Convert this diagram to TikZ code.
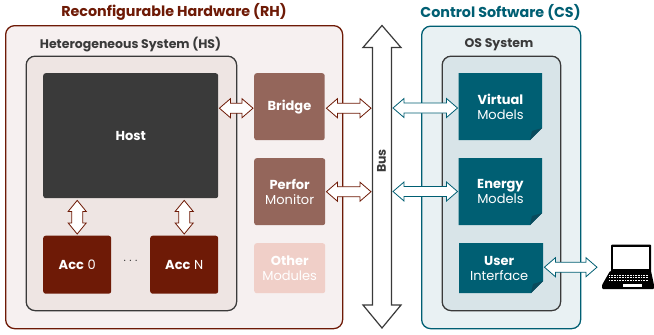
\documentclass[tikz,border=0pt]{standalone}
\usepackage{fontspec}
\setmainfont{Poppins}
\usetikzlibrary{calc}
\definecolor{rhred}{HTML}{6E1A06}
\definecolor{rhbg}{HTML}{F6F0F0}
\definecolor{hsbg}{HTML}{EEE5E3}
\definecolor{dark}{HTML}{3A3A3A}
\definecolor{brown}{HTML}{94665B}
\definecolor{pink}{HTML}{F0CFC8}
\definecolor{teal}{HTML}{005F73}
\definecolor{tealdk}{HTML}{0A4A5C}
\definecolor{csbg}{HTML}{E9F1F3}
\definecolor{osbg}{HTML}{D8E4E8}
\tikzset{
 x=1pt,y=-1pt,
 panel/.style={draw,line width=1.3pt,rounded corners=9pt,minimum width=0pt},
 block/.style={inner sep=0pt,rounded corners=2.5pt,text=white,align=center,font=\fontsize{13}{15}\selectfont},
 title/.style={font=\fontsize{14.3}{16}\selectfont\bfseries},
 sub/.style={font=\fontsize{12.5}{14}\selectfont\bfseries,text=dark},
 darrow/.style={draw=#1,fill=white,line width=0.8pt,line join=miter},
}
\newcommand{\boxat}[7]{\node[#6,minimum width=#4pt-#2pt,minimum height=#5pt-#3pt,anchor=north west] (#1) at (#2,#3) {#7};}
\newcommand{\harrow}[3]{\draw[darrow=#1] let \p1=#2,\p2=#3 in
 (\x1,\y1) -- (\x1+11pt,\y1+9.5pt) -- (\x1+11pt,\y1+5pt) -- (\x2-11pt,\y1+5pt) -- (\x2-11pt,\y1+9.5pt) -- (\x2,\y1)
 -- (\x2-11pt,\y1-9.5pt) -- (\x2-11pt,\y1-5pt) -- (\x1+11pt,\y1-5pt) -- (\x1+11pt,\y1-9.5pt) -- cycle;}
\newcommand{\varrow}[3]{\draw[darrow=#1] let \p1=#2,\p2=#3 in
 (\x1,\y1) -- (\x1+9pt,\y1-11pt) -- (\x1+5.5pt,\y1-11pt) -- (\x1+5.5pt,\y2+11pt) -- (\x1+9pt,\y2+11pt) -- (\x1,\y2)
 -- (\x1-9pt,\y2+11pt) -- (\x1-5.5pt,\y2+11pt) -- (\x1-5.5pt,\y1-11pt) -- (\x1-9pt,\y1-11pt) -- cycle;}
\newcommand{\notebox}[7]{%
 \path[fill=teal] (#2,#3) -- (#4,#3) -- (#4,#5-12) -- (#4-12,#5) -- (#2,#5) -- cycle;
 \path[fill=tealdk] (#4,#5-12) -- (#4-12,#5) -- (#4-10,#5-9) -- cycle;
 \node[inner sep=0pt,minimum width=#4pt-#2pt,minimum height=#5pt-#3pt,anchor=north west] (#1) at (#2,#3) {};
 \node[text=white,align=center,font=\fontsize{13}{15}\selectfont,inner sep=0pt] (#1t) at ($(#1.center)+(#7,0)$) {#6};}
\begin{document}
\begin{tikzpicture}
\useasboundingbox (0,0) rectangle (654,335);
\fill[white] (0,0) rectangle (654,335);
\boxat{rh}{5}{25}{342}{328}{panel,draw=rhred,fill=rhbg}{}
\boxat{hs}{25.5}{55.5}{236}{310}{panel,draw=dark,fill=hsbg}{}
\boxat{cs}{421}{25.5}{580}{328}{panel,draw=teal,fill=csbg}{}
\boxat{os}{441.5}{55.5}{560}{310}{panel,draw=dark,fill=osbg}{}
\node[title,text=rhred] (rht) at (174,12) {Reconfigurable Hardware (RH)};
\node[title,text=teal] (cst) at (500.5,12) {Control Software (CS)};
\node[sub] (hst) at (130.5,44.5) {Heterogeneous System (HS)};
\node[sub] (ost) at (499,44.5) {OS System};
\boxat{host}{43}{73}{218}{198}{block,fill=dark}{\textbf{Host}}
\boxat{acc0}{43}{235.5}{111}{293.5}{block,fill=rhred}{\textbf{Acc} 0}
\boxat{accn}{150}{235.5}{218}{293.5}{block,fill=rhred}{\textbf{Acc} N}
\node[text=dark,font=\fontsize{11}{13}\selectfont] (dots) at (130.5,261) {.\hspace{3.4pt}.\hspace{3.4pt}.};
\boxat{bridge}{254}{73}{324.5}{140}{block,fill=brown}{\raisebox{-1pt}{\textbf{Bridge}}}
\boxat{perf}{254}{158}{325}{225}{block,fill=brown}{\textbf{Perfor}\\Monitor}
\boxat{other}{254}{243}{325}{293}{block,fill=pink}{\textbf{Other}\\Modules}
\notebox{virt}{458.5}{73}{542}{140}{\textbf{Virtual}\\Models}{0}
\notebox{ener}{458.5}{158}{542}{225}{\textbf{Energy}\\Models}{0}
\notebox{user}{459}{243}{543}{293}{\textbf{User}\\Interface}{-2}
\coordinate (bustop) at (382,25.5);
\coordinate (busbot) at (382,328);
\draw[fill=white,draw=dark,line width=1.2pt,line join=miter] let \p1=(bustop),\p2=(busbot) in
 (\p1) -- (\x1+19pt,\y1-22pt) -- (\x1+9.5pt,\y1-22pt) -- (\x1+9.5pt,\y2+23pt) -- (\x1+19pt,\y2+23pt) -- (\p2)
 -- (\x1-19pt,\y2+23pt) -- (\x1-9.5pt,\y2+23pt) -- (\x1-9.5pt,\y1-22pt) -- (\x1-19pt,\y1-22pt) -- cycle;
\node[rotate=90,font=\fontsize{12.5}{14}\selectfont\bfseries,text=dark] (bus) at (381.5,161) {Bus};
\coordinate (busl) at (371,108);
\coordinate (busr) at (393,108);
% laptop
\coordinate (lap) at (628,267);
\fill[black,rounded corners=1pt] (611,244.5) rectangle (651,273);
\fill[white] (613,247) rectangle (649,269);
\fill[black,rounded corners=1pt] (610,271) -- (651,271) -- (654,285) -- (654,289) -- (602,289) -- (602,285) -- cycle;
\foreach \yy in {275,277.5,280}{\draw[white,line width=0.7pt,dash pattern=on 1pt off 0.6pt] (609,\yy) -- (648,\yy);}
\fill[white] (623,283.5) -- (642,283.5) -- (642,287) -- (623,287) -- cycle;
% arrows
\harrow{rhred}{($(host.east)+(1,-27.5)$)}{($(bridge.west)+(-1,0)$)}
\harrow{rhred}{($(bridge.east)+(1.5,1.5)$)}{(busl)}
\harrow{rhred}{($(perf.east)+(1,0)$)}{(busl)}
\harrow{teal}{(busr)}{($(virt.west)+(-1,1.5)$)}
\harrow{teal}{($(busr)+(0,83.5)$)}{($(ener.west)+(-1,0)$)}
\harrow{teal}{($(user.east)+(1,-1)$)}{($(lap)+(-31,0)$)}
\varrow{rhred}{($(host.south)+(-53.5,2)$)}{($(acc0.north)+(0,-1.5)$)}
\varrow{rhred}{($(host.south)+(53.5,2)$)}{($(accn.north)+(0,-1.5)$)}
\end{tikzpicture}
\end{document}
